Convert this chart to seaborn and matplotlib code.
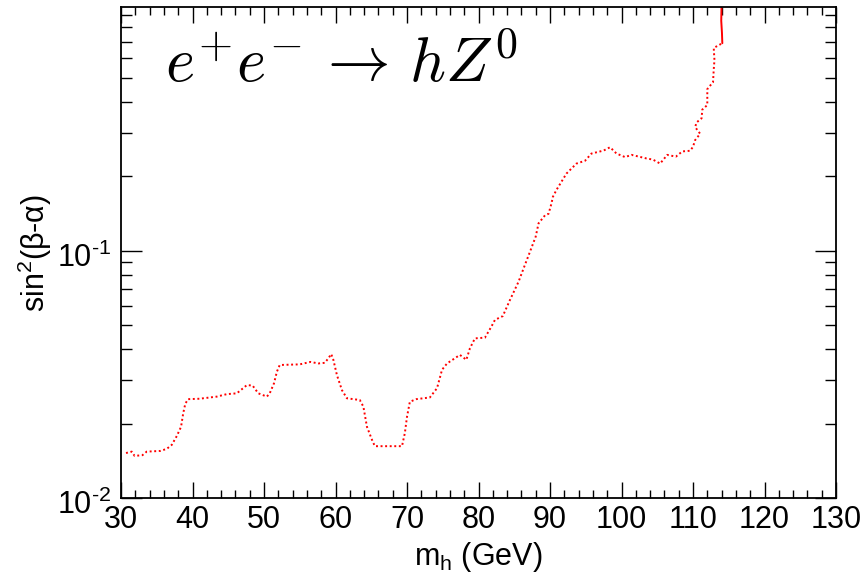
import numpy as np
import pandas as pd
import matplotlib
matplotlib.use("Agg")
import matplotlib.pyplot as plt
import matplotlib.ticker as mticker
import matplotlib.transforms as mtransforms
import seaborn as sns

# Excluded region boundary in the (m_h, sin^2(beta-alpha)) plane
mh_dotted = [30.7, 31.5, 31.9, 33.0, 33.6, 35.5, 36.4, 37.1, 37.8, 38.4,
             38.7, 39.0, 39.4, 41.0, 43.4, 44.8, 46.2, 47.6, 48.4, 49.2,
             50.4, 50.8, 51.4, 51.8, 52.2, 55.0, 56.5, 57.6, 58.5, 59.0,
             59.4, 59.7, 60.2, 60.9, 61.6, 63.4, 63.9, 64.4, 65.1, 65.5,
             69.3, 69.7, 70.0, 70.4, 71.3, 73.2, 74.2, 74.9, 75.6, 77.4,
             78.3, 78.8, 79.5, 80.9, 81.8, 82.3, 83.4, 84.4, 85.6, 86.4,
             87.2, 88.0, 88.4, 89.3, 89.8, 90.2, 90.4, 90.9, 92.3, 93.7,
             94.9, 95.8, 97.5, 98.4, 99.3, 100.5, 101.4, 103.5, 104.4, 105.4,
             106.4, 107.6, 108.5, 109.6, 110.0, 110.3, 111.0, 110.3, 110.5, 111.2,
             111.3, 112.0, 112.0, 112.0, 112.4, 112.8, 112.9, 113.0, 112.9, 113.3,
             114.1]
sin2_dotted = [0.0152, 0.0154, 0.0148, 0.0149, 0.0154, 0.0155, 0.0158, 0.0164, 0.0178, 0.0194,
               0.0220, 0.0241, 0.0251, 0.0252, 0.0257, 0.0263, 0.0265, 0.0286, 0.0285, 0.0265,
               0.0257, 0.0265, 0.0291, 0.0324, 0.0345, 0.0347, 0.0355, 0.0350, 0.0352, 0.0367,
               0.0382, 0.0362, 0.0314, 0.0273, 0.0253, 0.0249, 0.0234, 0.0194, 0.0172, 0.0162,
               0.0162, 0.0183, 0.0213, 0.0245, 0.0251, 0.0255, 0.0278, 0.0330, 0.0350, 0.0379,
               0.0362, 0.0403, 0.0442, 0.0445, 0.0493, 0.0525, 0.0544, 0.0632, 0.0749, 0.0862,
               0.0990, 0.114, 0.129, 0.139, 0.141, 0.155, 0.165, 0.176, 0.205, 0.225,
               0.231, 0.247, 0.254, 0.262, 0.247, 0.239, 0.244, 0.236, 0.2335, 0.225,
               0.244, 0.240, 0.252, 0.2535, 0.263, 0.280, 0.297, 0.316, 0.330, 0.343,
               0.372, 0.388, 0.420, 0.450, 0.465, 0.480, 0.540, 0.590, 0.660, 0.670,
               0.690]

mh_solid = [114.1, 114.05, 113.95, 114.0]
sin2_solid = [0.690, 0.760, 0.850, 1.000]

xticks = [30, 40, 50, 60, 70, 80, 90, 100, 110, 120, 130]
yticks = [0.01, 0.1]
ytick_labels = [r"$\mathregular{10^{\text{-}2}}$", r"$\mathregular{10^{\text{-}1}}$"]

sns.set_theme(style="ticks")
plt.rcParams["font.family"] = ["Liberation Sans", "DejaVu Sans"]
plt.rcParams["mathtext.fontset"] = "custom"
plt.rcParams["mathtext.rm"] = "Liberation Sans"
plt.rcParams["mathtext.it"] = "Liberation Sans:italic"
plt.rcParams["axes.unicode_minus"] = False
for key in ["text.color", "axes.labelcolor", "xtick.color", "ytick.color", "axes.edgecolor"]:
    plt.rcParams[key] = "black"

fig = plt.figure(figsize=(8.65, 5.74), dpi=100)
ax = fig.add_axes([121 / 865, 1 - 498 / 574, 715 / 865, 490.7 / 574])

dotted = pd.DataFrame({"mh": mh_dotted, "sin2": sin2_dotted})
solid = pd.DataFrame({"mh": mh_solid, "sin2": sin2_solid})

sns.lineplot(data=dotted, x="mh", y="sin2", ax=ax, sort=False, estimator=None,
             color="#ff0000", linewidth=1.4, linestyle=(0, (1, 1.35)))
sns.lineplot(data=solid, x="mh", y="sin2", ax=ax, sort=False, estimator=None,
             color="#ff0000", linewidth=1.4, linestyle="-")

ax.set_yscale("log")
ax.set_xlim(30, 130)
ax.set_ylim(0.01, 0.964)

ax.set_xticks(xticks)
ax.set_xticklabels([str(t) for t in xticks])
ax.xaxis.set_minor_locator(mticker.MultipleLocator(2))
ax.set_yticks(yticks)
ax.set_yticklabels(ytick_labels)
ax.yaxis.set_minor_locator(mticker.LogLocator(base=10, subs=np.arange(2, 10)))
ax.yaxis.set_minor_formatter(mticker.NullFormatter())

for side in ["left", "right", "top", "bottom"]:
    ax.spines[side].set_visible(True)
    ax.spines[side].set_linewidth(1.3)
    ax.spines[side].set_color("black")

ax.tick_params(axis="both", which="both", direction="in", top=True, right=True,
               color="black", width=1.0)
ax.tick_params(axis="x", which="major", length=11.5, pad=5, labelsize=22)
ax.tick_params(axis="x", which="minor", length=5.5)
ax.tick_params(axis="y", which="major", length=15, pad=7, labelsize=22)
ax.tick_params(axis="y", which="minor", length=7.7)

shift = mtransforms.ScaledTranslation(0, -4 / 100, fig.dpi_scale_trans)
for lbl in ax.get_yticklabels():
    lbl.set_transform(lbl.get_transform() + shift)

ax.set_xlabel(r"m$_\mathregular{h}$ (GeV)", fontsize=22, labelpad=4)
ax.set_ylabel(r"sin$^\mathregular{2}$(β-α)", fontsize=22, labelpad=2)

ax.text(0.0615, 0.848, r"$e^{+}e^{-}\,\rightarrow\,hZ^{0}$", transform=ax.transAxes,
        fontsize=45, math_fontfamily="cm", ha="left", va="baseline")

ax.grid(False)
fig.savefig("out.png", dpi=100, facecolor="white")
